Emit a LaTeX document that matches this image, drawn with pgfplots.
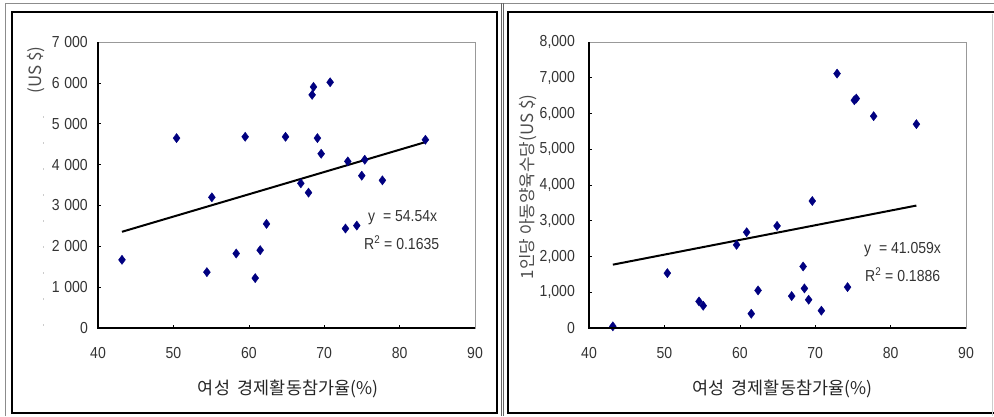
\documentclass[border=0pt]{standalone}
\usepackage{fontspec}
\setmainfont[FakeStretch=0.88]{Liberation Sans}
\newfontfamily\kr{Noto Sans CJK KR}
\usepackage{pgfplots}
\pgfplotsset{compat=1.18}
\definecolor{navy}{RGB}{0,0,128}

\pgfplotstableread{
x y
43.18 1669
50.42 4648
54.44 1367
55.10 3199
58.33 1823
59.52 4680
60.85 1221
61.51 1905
62.35 2548
64.87 4680
66.90 3541
67.92 3313
68.40 5706
68.58 5901
69.10 4648
69.60 4265
70.79 6015
72.82 2434
73.13 4078
74.32 2507
74.98 3728
75.38 4119
77.72 3614
83.42 4607
}\lefttab

\pgfplotstableread{
x y
43.16 47
50.39 1535
54.59 744
55.15 623
59.57 2326
60.91 2679
61.52 400
62.42 1051
64.94 2856
66.88 893
68.40 1721
68.57 1107
69.13 791
69.61 3553
70.82 484
72.90 7116
74.29 1144
75.19 6372
75.45 6419
77.75 5926
83.42 5702
}\righttab

\pgfplotsset{myax/.style={
  scale only axis, width=377bp, height=286bp, anchor=south west,
  xmin=40, xmax=90, xtick={40,50,...,90}, ymin=0,
  axis line style={black!40, line width=0.8bp},
  tick style={black, line width=0.6bp}, major tick length=3bp, tick align=inside,
  xtick pos=bottom, ytick pos=left,
  ticklabel style={font=\fontsize{16}{18}\selectfont, text=black!80},
  /pgf/number format/assume math mode=true,
  xticklabel style={anchor=north, inner sep=0pt, yshift=-19bp},
  clip=false,
  after end axis/.code={\draw[black, line width=1.3bp] (rel axis cs:0,1) -- (rel axis cs:0,0) -- (rel axis cs:1,0);}
}}

\begin{document}
\begin{tikzpicture}[x=1bp,y=1bp]
\path[use as bounding box] (0,0) rectangle (994,416);
% frames
\draw[black!45, line width=0.8bp] (5,0) -- (5,413) -- (994,413);
\draw[black, line width=1.5bp] (12,3) rectangle (497,404);
\draw[black!60, line width=0.8bp] (501,0) -- (501,413);
\draw[black!60, line width=0.8bp] (503.5,0) -- (503.5,413);
\draw[black, line width=1.5bp] (994,404) -- (508,404) -- (508,3) -- (994,3);
\draw[black!20, line width=0.8bp] (992,0) -- (992,402);

% left chart
\begin{axis}[myax, at={(98bp,88bp)}, ymax=7000, ytick={0,1000,...,7000},
  /pgf/number format/1000 sep={\kern0.3em},
  yticklabel style={anchor=east, inner sep=0pt, xshift=-10bp}]
\addplot[only marks, mark=diamond*, mark size=4.6bp, color=navy] table[x=x,y=y] {\lefttab};
\addplot[black, line width=2bp] coordinates {(43.18,2355) (83.42,4550)};
\end{axis}

% right chart
\begin{axis}[myax, at={(589bp,88bp)}, ymax=8000, ytick={0,1000,...,8000},
  /pgf/number format/1000 sep={,},
  yticklabel style={anchor=east, inner sep=0pt, xshift=-14bp}]
\addplot[only marks, mark=diamond*, mark size=4.6bp, color=navy] table[x=x,y=y] {\righttab};
\addplot[black, line width=2bp] coordinates {(43.16,1772) (83.42,3425)};
\end{axis}

% regression texts
\begin{scope}[every node/.style={anchor=west, inner sep=0pt, text=black!80, font=\fontsize{16}{18}\selectfont}]
\node at (368,198) {y\ \ = 54.54x};
\node at (364,173) {R\textsuperscript{2} = 0.1635};
\node at (864,166) {y\ \ = 41.059x};
\node at (865,141) {R\textsuperscript{2} = 0.1886};
\end{scope}

% axis titles
\node[text=black!85, font=\kr\fontsize{17.5}{20}\selectfont] at (288,27) {여성\ \ 경제활동참가율(\%)};
\node[text=black!85, font=\kr\fontsize{17.5}{20}\selectfont] at (782,27) {여성\ \ 경제활동참가율(\%)};
\node[rotate=90, text=black!70, font=\kr\fontsize{17}{20}\selectfont] at (528.5,229) {1인당 아동양육수당(US \$)};
\node[rotate=90, anchor=east, text=black!70, font=\kr\fontsize{17}{20}\selectfont] at (36,373) {(US \$)};
\draw[black!20, line width=0.8bp, dash pattern=on 2bp off 24bp] (43,300) -- (43,85);
\end{tikzpicture}
\end{document}
